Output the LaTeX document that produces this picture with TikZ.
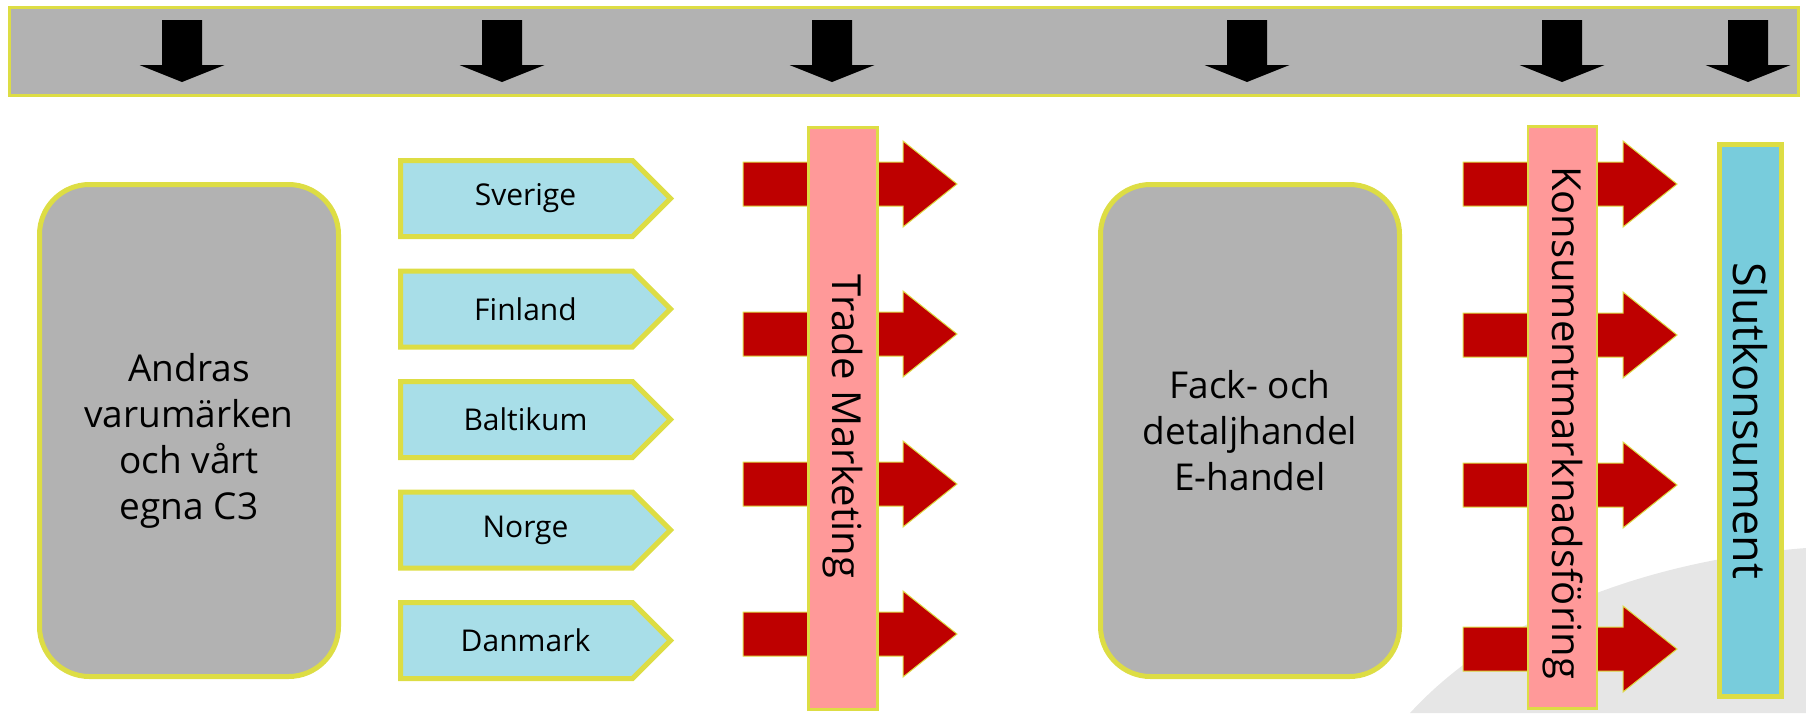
\documentclass[tikz,border=0pt]{standalone}
\usepackage{fontspec}
\setmainfont{Open Sans}
\usetikzlibrary{shapes.symbols}

\definecolor{barfill}{RGB}{178,178,178}
\definecolor{rim}{RGB}{221,221,68}
\definecolor{landfill}{RGB}{168,222,232}
\definecolor{pushred}{RGB}{190,0,0}
\definecolor{stagefill}{RGB}{255,153,153}
\definecolor{endfill}{RGB}{120,204,220}
\definecolor{swoosh}{RGB}{230,230,230}

\begin{document}
\begin{tikzpicture}[x=1pt,y=-1pt]
      \tikzstyle{flowbar} = [draw=rim,line width=3pt,fill=barfill]
      \tikzstyle{block} = [draw=rim,line width=5pt,fill=barfill,rounded corners=50pt,
        minimum width=299pt,minimum height=492pt,align=center,
        font=\fontsize{37}{46}\selectfont]
      \tikzstyle{land} = [signal,signal to=east,signal pointer angle=90,draw=rim,
        line width=5pt,fill=landfill,minimum width=270pt,minimum height=76pt]
      \tikzstyle{stage} = [draw=rim,line width=2.5pt,fill=stagefill,minimum width=69pt,
        minimum height=582pt]
      \tikzstyle{push} = [draw=rim,line width=1pt,fill=pushred]

      \useasboundingbox (0,0) rectangle (1806,713);
      \fill[swoosh] (1410,713) .. controls (1500,615) and (1650,560) .. (1806,548) -- (1806,713) -- cycle;

      \node[flowbar,minimum width=1789pt,minimum height=88pt](flow) at (904,51.5) {};
      \foreach \x in {182,502,832,1247,1562,1748}
        \fill (\x-20,20) -- (\x+20,20) -- (\x+20,65) -- (\x+42.5,65) -- (\x,82)
          -- (\x-42.5,65) -- (\x-20,65) -- cycle;

      \node[block](brands) at (189,430.5) {};
      \node[align=center,font=\fontsize{37}{46}\selectfont] at ([yshift=-10pt]brands)
        {Andras\\varumärken\\och vårt\\egna C3};

      \def\lands{Sverige,Finland,Baltikum,Norge,Danmark}
      \foreach \n [count=\i from 0] in \lands {
        \node[land](land\i) at (516.5,198.5+110.5*\i) {};
        \node[font=\fontsize{30}{34}\selectfont] at ([xshift=9pt]land\i) {\n};
      }

      \foreach \y in {184,334,484,634}
        \filldraw[push] (743,\y-22) -- (903,\y-22) -- (903,\y-43) -- (957,\y)
          -- (903,\y+43) -- (903,\y+22) -- (743,\y+22) -- cycle;
      \node[stage](trade) at (843,418.5) {};
      \node[rotate=-90,font=\fontsize{40}{46}\selectfont] at ([yshift=-8pt]trade) {Trade Marketing};

      \node[block](retail) at (1250,430.5) {Fack- och\\detaljhandel\\E-handel};

      \foreach \y in {184,335,485,649}
        \filldraw[push] (1463,\y-22) -- (1623,\y-22) -- (1623,\y-43) -- (1677,\y)
          -- (1623,\y+43) -- (1623,\y+22) -- (1463,\y+22) -- cycle;
      \node[stage](consumer) at (1562.5,417.5) {};
      \node[rotate=-90,font=\fontsize{40}{46}\selectfont] at ([yshift=-5pt]consumer) {Konsumentmarknadsföring};

      \node[draw=rim,line width=5pt,fill=endfill,minimum width=62pt,minimum height=552pt]
        (endcust) at (1750.5,420.5) {};
      \node[rotate=-90,font=\fontsize{45}{52}\selectfont] at (endcust) {Slutkonsument};
\end{tikzpicture}
\end{document}
